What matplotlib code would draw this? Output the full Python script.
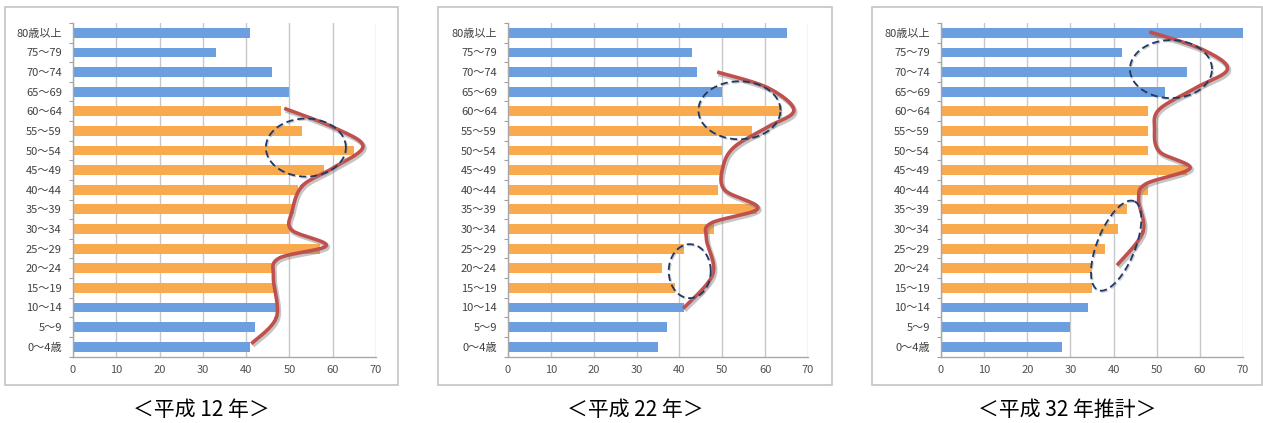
import numpy as np
import matplotlib
matplotlib.use("Agg")
import matplotlib.pyplot as plt
from matplotlib import patheffects as pe
from matplotlib.patches import Rectangle
from matplotlib.ticker import FixedLocator, NullFormatter

plt.rcParams['font.family'] = ['Noto Sans CJK JP', 'DejaVu Sans']

# age groups, bottom to top
age_groups = ['0～4歳', '5～9', '10～14', '15～19', '20～24', '25～29', '30～34',
              '35～39', '40～44', '45～49', '50～54', '55～59', '60～64',
              '65～69', '70～74', '75～79', '80歳以上']
working_age = [False, False, False] + [True] * 10 + [False] * 4

values_h12 = [41, 42, 47, 46.5, 46, 57, 50, 51, 52, 58, 65, 53, 48, 50, 46, 33, 41]
values_h22 = [35, 37, 41, 39, 36, 41, 48, 58, 49, 50, 50, 57, 64, 50, 44, 43, 65]
values_h32 = [28, 30, 34, 35, 35, 38, 41, 43, 48, 57, 48, 48, 48, 52, 57, 42, 70]

captions = ['＜平成 12 年＞', '＜平成 22 年＞', '＜平成 32 年推計＞']

# hand-drawn wave along the bar ends: knots (value, row index)
wave_h12_x = [41.2, 47.0, 46.3, 47.5, 58.5, 50.5, 50.6, 53.0, 60.0, 67.0, 60.5, 48.8]
wave_h12_y = [0.15, 1.5, 3.5, 4.5, 5.15, 5.95, 6.9, 8.2, 9.1, 10.2, 11.15, 12.15]
wave_h22_x = [40.9, 47.8, 46.3, 47.4, 58.3, 50.5, 50.2, 52.9, 60.6, 66.7, 60.6, 48.8]
wave_h22_y = [1.95, 3.7, 5.5, 6.3, 7.05, 8.0, 9.2, 10.2, 11.2, 12.05, 13.2, 14.0]
wave_h32_x = [40.8, 46.8, 45.8, 47.5, 57.7, 50.6, 49.5, 50.6, 59.1, 66.4, 60.6, 48.3]
wave_h32_y = [4.15, 5.85, 7.5, 8.3, 9.1, 9.95, 11.1, 12.1, 13.2, 14.15, 15.15, 16.05]

# dashed rings: centre value, centre row, half-axes in pixels, tilt in degrees
rings_h12 = [(53.8, 10.15, 40, 29, 0)]
rings_h22 = [(54.0, 12.05, 41, 29, 0), (42.4, 3.85, 21, 27, 0)]
rings_h32 = [(53.3, 14.15, 41, 29, 0), (40.6, 5.15, 48, 19, 68)]

BLUE = '#6b9fe0'
ORANGE = '#f9aa4f'
RED = '#c0504d'
NAVY = '#1f3864'
GRID = '#c8c8c8'

W, H = 1263, 423


def catmull_rom(xs, ys, n=30):
    pts = np.column_stack([xs, ys]).astype(float)
    pts = np.vstack([pts[0], pts, pts[-1]])
    out = []
    t = np.linspace(0, 1, n)[:, None]
    for i in range(1, len(pts) - 2):
        p0, p1, p2, p3 = pts[i - 1], pts[i], pts[i + 1], pts[i + 2]
        seg = 0.5 * ((2 * p1) + (-p0 + p2) * t + (2 * p0 - 5 * p1 + 4 * p2 - p3) * t ** 2
                     + (-p0 + 3 * p1 - 3 * p2 + p3) * t ** 3)
        out.append(seg)
    out = np.vstack(out)
    return out[:, 0], out[:, 1]


def draw_panel(ax, values, wave_x, wave_y, rings):
    rows = np.arange(len(age_groups))
    colors = [ORANGE if w else BLUE for w in working_age]
    ax.barh(rows, values, height=0.5, color=colors, zorder=2)

    ax.set_xlim(0, 70)
    ax.set_ylim(-0.5, len(age_groups) - 0.5)
    ax.set_xticks(range(0, 71, 10))
    ax.set_yticks(rows, labels=age_groups)
    ax.yaxis.set_minor_locator(FixedLocator(np.arange(-0.5, len(age_groups), 1)))
    ax.yaxis.set_minor_formatter(NullFormatter())
    ax.tick_params(axis='y', which='major', length=0, pad=8, labelsize=8, labelcolor='#404040')
    ax.tick_params(axis='y', which='minor', length=3, color='#a0a0a0', width=0.8)
    ax.tick_params(axis='x', length=0, pad=6, labelsize=8, labelcolor='#505050')
    ax.grid(axis='x', color=GRID, linewidth=1.0, zorder=0)
    for side in ['top', 'right']:
        ax.spines[side].set_visible(False)
    for side in ['left', 'bottom']:
        ax.spines[side].set_color('#a8a8a8')
        ax.spines[side].set_linewidth(1.0)

    # wave line with a soft grey shadow
    cx, cy = catmull_rom(wave_x, wave_y)
    ax.plot(cx, cy, color=RED, linewidth=2.6, solid_capstyle='butt', zorder=5,
            path_effects=[pe.SimpleLineShadow(offset=(1.0, -1.4), shadow_color='#808080',
                                              alpha=0.45, linewidth=3.4),
                          pe.Normal()])

    # dashed rings, sized in pixels so the tilt looks right
    box = ax.get_window_extent()
    px_x = box.width / 70
    px_y = box.height / len(age_groups)
    t = np.linspace(0, 2 * np.pi, 200)
    for x0, y0, a, b, ang in rings:
        th = np.deg2rad(ang)
        dx = a * np.cos(t) * np.cos(th) - b * np.sin(t) * np.sin(th)
        dy = a * np.cos(t) * np.sin(th) + b * np.sin(t) * np.cos(th)
        ax.plot(x0 + dx / px_x, y0 + dy / px_y, color=NAVY, linewidth=1.3,
                linestyle=(0, (4, 2.2)), zorder=6,
                path_effects=[pe.SimpleLineShadow(offset=(0.8, -0.8), shadow_color='#999999',
                                                  alpha=0.5), pe.Normal()])


fig = plt.figure(figsize=(W / 100, H / 100), dpi=100)

panels = [
    (values_h12, wave_h12_x, wave_h12_y, rings_h12, (73, 376), (5, 398)),
    (values_h22, wave_h22_x, wave_h22_y, rings_h22, (508, 808), (438, 832)),
    (values_h32, wave_h32_x, wave_h32_y, rings_h32, (941, 1243), (872, 1262)),
]
ax_top, ax_bot = 23, 356.5
for (vals, wx, wy, rings, (x0, x1), (f0, f1)), cap in zip(panels, captions):
    frame = Rectangle((f0 / W, 1 - 385 / H), (f1 - f0) / W, (385 - 7) / H,
                      transform=fig.transFigure, fill=False, edgecolor='#c4c4c4',
                      linewidth=1.2)
    fig.patches.append(frame)
    ax = fig.add_axes([x0 / W, 1 - ax_bot / H, (x1 - x0) / W, (ax_bot - ax_top) / H])
    draw_panel(ax, vals, wx, wy, rings)
    fig.text(((f0 + f1) / 2) / W, 1 - 410 / H, cap, ha='center', va='center',
             fontsize=15, color='black')

fig.savefig('out.png', dpi=100)
